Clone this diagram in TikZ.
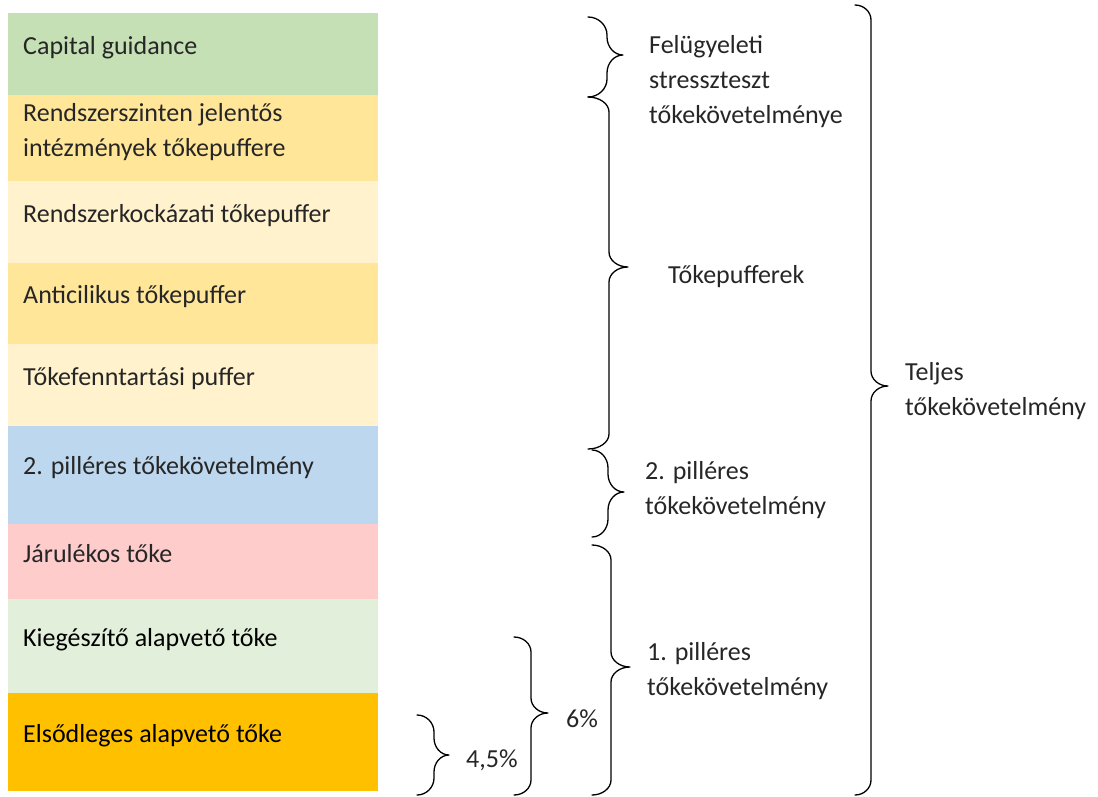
\documentclass[tikz,border=0pt]{standalone}
\usepackage{fontspec}
\setmainfont{Carlito}

\definecolor{cgGreen}{HTML}{C5E0B4}
\definecolor{sysGold}{HTML}{FFE699}
\definecolor{paleYellow}{HTML}{FFF2CC}
\definecolor{pillarBlue}{HTML}{BDD7EE}
\definecolor{tierPink}{HTML}{FFCCCC}
\definecolor{atGreen}{HTML}{E2EFDA}
\definecolor{cetOrange}{HTML}{FFC000}
\definecolor{lightInk}{HTML}{262626}

\tikzset{
  % for multi-line labels the base anchor sits on the last line
  lbl/.style={anchor=base west, inner sep=0pt, align=left, text=lightInk,
              font=\fontsize{26}{35}\selectfont},
  strong/.style={lbl, text=black},
  bracestyle/.style={draw=black, line width=1.3pt, line cap=round, line join=round},
}

% right curly brace: x0 xs xt ytop ytip ybot radius
\newcommand\capbrace[7]{%
  \draw[bracestyle] (#1,#4)
    .. controls ({#1+0.55*(#2-#1)},#4) and (#2,{#4+0.45*#7}) .. (#2,{#4+#7})
    -- (#2,{#5-#7})
    .. controls (#2,{#5-0.45*#7}) and ({#3-0.55*(#3-#2)},#5) .. (#3,#5)
    .. controls ({#3-0.55*(#3-#2)},#5) and (#2,{#5+0.45*#7}) .. (#2,{#5+#7})
    -- (#2,{#6-#7})
    .. controls (#2,{#6-0.45*#7}) and ({#1+0.55*(#2-#1)},#6) .. (#1,#6);}

\begin{document}
\begin{tikzpicture}[x=1pt,y=-1pt]
\useasboundingbox (0,0) rectangle (1098,796);

% stacked capital layers
\fill[cgGreen]    (8,13)  rectangle (378,95);
\fill[sysGold]    (8,95)  rectangle (378,181);
\fill[paleYellow] (8,181) rectangle (378,263);
\fill[sysGold]    (8,263) rectangle (378,344);
\fill[paleYellow] (8,344) rectangle (378,426);
\fill[pillarBlue] (8,426) rectangle (378,524);
\fill[tierPink]   (8,524) rectangle (378,599);
\fill[atGreen]    (8,599) rectangle (378,693);
\fill[cetOrange]  (8,693) rectangle (378,791);

\node[lbl] (cg)   at (23,54)  {Capital guidance};
\node[lbl] (osii) at (23,156) {Rendszerszinten jelentős\\intézmények tőkepuffere};
\node[lbl] (srb)  at (23,222) {Rendszerkockázati tőkepuffer};
\node[lbl] (ccyb) at (23,303) {Anticilikus tőkepuffer};
\node[lbl] (ccb)  at (23,385) {Tőkefenntartási puffer};
\node[lbl] (p2r)  at (23,474) {2. pilléres tőkekövetelmény};
\node[lbl] (t2)   at (23,562) {Járulékos tőke};
\node[strong] (at1) at (23,646) {Kiegészítő alapvető tőke};
\node[strong] (cet1) at (23,742) {Elsődleges alapvető tőke};

% braces grouping the layers
\capbrace{588}{607}{623}{17}{55}{97}{18}
\capbrace{588}{609}{628}{97}{267}{449}{15}
\capbrace{592}{608}{624}{450}{492}{537}{18}
\capbrace{592}{611}{630}{545}{667}{795}{15}
\capbrace{514}{531}{548}{637}{713}{795}{15}
\capbrace{417}{434}{449}{715}{755}{795}{17}
\capbrace{855}{871}{888}{5}{386}{795}{15}

% group labels
\node[lbl] (stress) at (649,123) {Felügyeleti\\stresszteszt\\tőkekövetelménye};
\node[lbl] (buf)    at (668,283) {Tőkepufferek};
\node[lbl] (p2)     at (645,514) {2. pilléres\\tőkekövetelmény};
\node[lbl] (p1)     at (647,695) {1. pilléres\\tőkekövetelmény};
\node[lbl] (six)    at (566,727) {6\%};
\node[lbl] (four)   at (466,767) {4,5\%};
\node[lbl] (total)  at (905,415) {Teljes\\tőkekövetelmény};
\end{tikzpicture}
\end{document}
